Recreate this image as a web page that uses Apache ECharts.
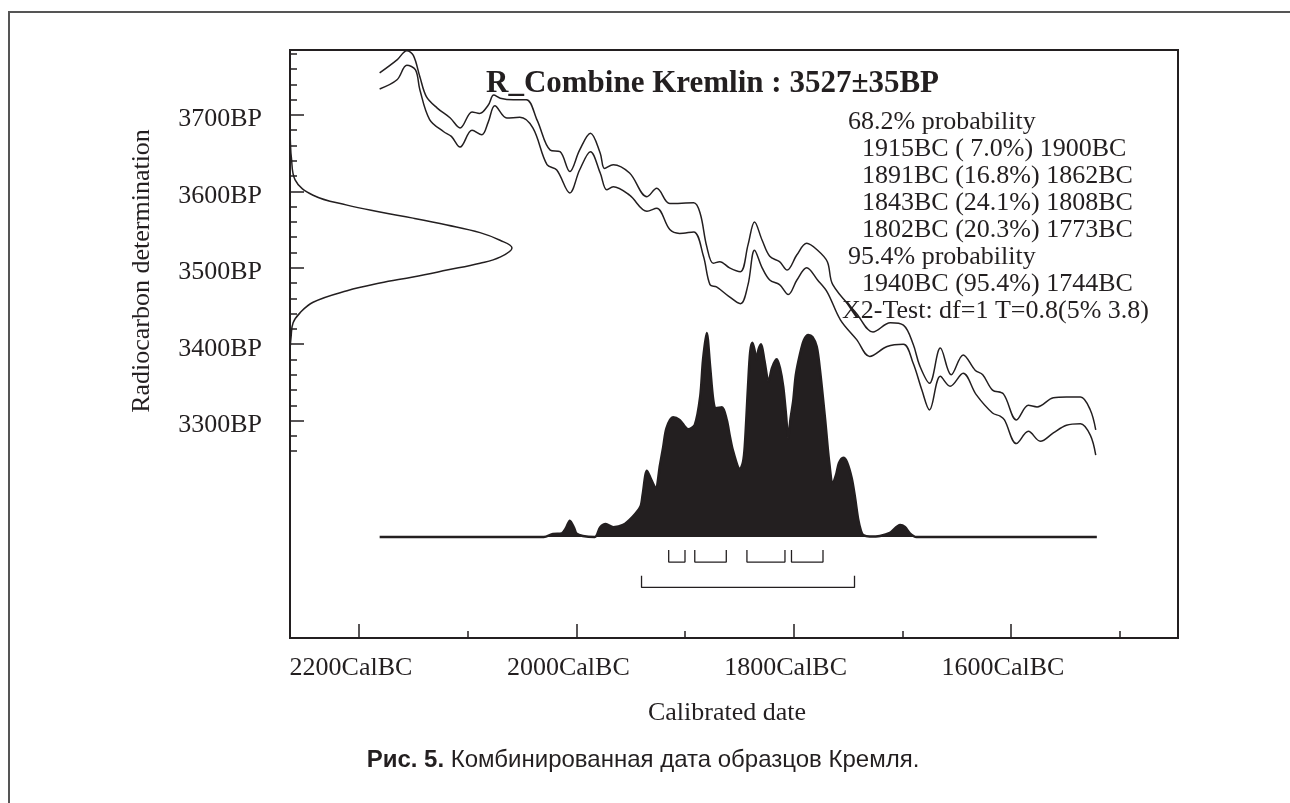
<!DOCTYPE html>
<html>
<head>
<meta charset="utf-8">
<script src="https://cdn.jsdelivr.net/npm/echarts@6.0.0/dist/echarts.min.js"></script>
<style>
html,body{margin:0;padding:0;background:#fff;}
#chart{width:1290px;height:803px;}
</style>
</head>
<body>
<div id="chart"></div>
<script>
// ---------- DATA ----------
// Calibration curve (upper / lower 1-sigma envelope): calendar year BC, radiocarbon BP
const upperYears = [2181,2165,2156,2150,2144,2138,2128,2116,2107,2096,2089,2081,2076,2070,2058,2046,2036,2024,2015,2006,1997,1987,1978,1974,1966,1951,1935,1926,1914,1892,1886,1880,1874,1868,1859,1849,1842,1836,1829,1822,1813,1806,1797,1788,1778,1769,1764,1742,1727,1711,1699,1690,1684,1675,1665,1655,1644,1633,1626,1617,1607,1595,1584,1576,1561,1549,1536,1527,1522];
const upperBP    = [3755,3772,3784,3778,3750,3724,3709,3696,3683,3704,3702,3713,3726,3722,3720,3720,3693,3654,3652,3626,3654,3676,3650,3630,3635,3624,3593,3604,3584,3585,3571,3528,3506,3508,3500,3495,3530,3560,3536,3515,3508,3497,3517,3532,3523,3508,3478,3440,3416,3428,3425,3400,3372,3349,3395,3360,3386,3366,3360,3340,3335,3301,3320,3318,3330,3331,3331,3314,3288];
const lowerYears = [2181,2165,2156,2148,2144,2135,2122,2115,2107,2096,2087,2081,2075,2064,2052,2040,2027,2018,2006,1997,1987,1978,1972,1966,1951,1935,1926,1914,1905,1892,1883,1877,1871,1860,1849,1842,1836,1829,1822,1813,1805,1797,1788,1778,1769,1757,1742,1730,1714,1699,1690,1682,1675,1665,1656,1644,1632,1617,1610,1606,1595,1584,1573,1561,1549,1536,1527,1522];
const lowerBP    = [3734,3746,3765,3759,3733,3694,3678,3672,3658,3680,3674,3691,3712,3696,3697,3683,3635,3628,3598,3628,3652,3624,3602,3606,3595,3574,3578,3550,3545,3547,3515,3478,3475,3463,3453,3478,3523,3500,3484,3478,3465,3484,3500,3484,3468,3432,3406,3384,3397,3400,3375,3340,3314,3358,3345,3362,3334,3310,3306,3301,3270,3286,3273,3284,3294,3296,3281,3255];

// Radiocarbon measurement distribution (BP, relative probability)
const measBP   = [3680,3663,3645,3615,3595,3582,3573,3565,3556,3546,3536,3526,3514,3506,3497,3488,3480,3470,3455,3441,3428,3410,3392];
const measProb = [0,0.002,0.006,0.023,0.104,0.257,0.405,0.554,0.707,0.856,0.946,1.0,0.946,0.856,0.707,0.554,0.405,0.257,0.104,0.045,0.014,0.005,0];

// Calibrated date distribution (year BC, relative probability)
const calYears = [2181,2030,2021.5,2013.5,2009.5,2006,2002,2000,1994,1983,1978,1973,1966,1957,1948,1941,1939,1935,1931,1927,1923,1920,1917,1911,1905,1897,1891,1886,1883.4,1880,1877,1874,1871.5,1866,1861.6,1858.6,1855.6,1849.4,1846.6,1845,1842,1840,1838,1835.6,1834,1832.4,1830,1827,1823,1820,1815.6,1812.6,1809.6,1807,1805,1803,1800.3,1798,1794,1790.5,1786.5,1782.7,1778.8,1775.8,1771,1767.5,1764,1761,1758.3,1754.3,1751,1746.6,1743.6,1740.5,1738,1736,1730,1720.6,1711.4,1702,1697.6,1693,1687,1521];
const calProb  = [0,0,0.015,0.018,0.044,0.08,0.044,0.018,0.005,0,0.048,0.064,0.048,0.059,0.1,0.149,0.206,0.325,0.28,0.239,0.353,0.443,0.534,0.587,0.574,0.528,0.549,0.688,0.868,1.0,0.843,0.672,0.631,0.636,0.574,0.49,0.418,0.332,0.368,0.443,0.737,0.907,0.952,0.907,0.868,0.917,0.945,0.868,0.761,0.828,0.871,0.828,0.737,0.598,0.484,0.574,0.672,0.794,0.9,0.966,0.99,0.98,0.933,0.819,0.574,0.377,0.263,0.304,0.363,0.389,0.368,0.289,0.196,0.083,0.029,0.01,0.002,0.005,0.02,0.059,0.049,0.018,0,0];

// Probability ranges (BC)
const ranges68 = [[1915,1900],[1891,1862],[1843,1808],[1802,1773]];
const ranges95 = [[1940,1744]];

// Tick labels
const xMajorTicks = [2200,2000,1800,1600];
const xMinorTicks = [2100,1900,1700,1500];
const yMajorTicks = [3300,3400,3500,3600,3700];
const yMinorTicks = [3260,3280,3320,3340,3360,3380,3420,3440,3460,3480,3520,3540,3560,3580,3620,3640,3660,3680,3720,3740,3760,3780];

const titleText = 'R_Combine Kremlin : 3527±35BP';
const probLines = ['68.2% probability','1915BC ( 7.0%) 1900BC','1891BC (16.8%) 1862BC','1843BC (24.1%) 1808BC','1802BC (20.3%) 1773BC','95.4% probability','1940BC (95.4%) 1744BC','X2-Test: df=1 T=0.8(5% 3.8)'];

// ---------- CHART ----------
const INK = '#231f20';
const SERIF = '"Liberation Serif","Times New Roman",serif';
const chart = echarts.init(document.getElementById('chart'), null, {renderer:'canvas'});

const zip = (a,b) => a.map((v,i)=>[v,b[i]]);

function bracket(r, top, bottom){
  return {
    type:'line', xAxisIndex:0, yAxisIndex:2, symbol:'none', silent:true,
    lineStyle:{color:INK, width:1.3},
    data:[[r[0],top],[r[0],bottom],[r[1],bottom],[r[1],top]]
  };
}

const probXs = [848,862,862,862,862,848,862,842];
const probY0 = 122.5, probDY = 26.9;

const graphics = [
  {type:'rect', shape:{x:9,y:12,width:1300,height:820}, style:{fill:'none',stroke:'#555',lineWidth:2}, silent:true},
  {type:'text', x:486, y:84, style:{text:titleText, font:'bold 31px '+SERIF, fill:INK, textAlign:'left', textVerticalAlign:'middle', align:'left', verticalAlign:'middle'}, z:10},
  {type:'text', x:142, y:271, rotation:Math.PI/2, style:{text:'Radiocarbon determination', font:'26px '+SERIF, fill:INK, textAlign:'center', textVerticalAlign:'middle', align:'center', verticalAlign:'middle'}},
  {type:'text', x:727, y:713, style:{text:'Calibrated date', font:'26px '+SERIF, fill:INK, textAlign:'center', textVerticalAlign:'middle', align:'center', verticalAlign:'middle'}},
  {type:'text', x:643, y:760, style:{text:'{b|Рис. 5.} Комбинированная дата образцов Кремля.', font:'24px "Liberation Sans",Arial,sans-serif', fill:INK, textAlign:'center', textVerticalAlign:'middle', align:'center', verticalAlign:'middle', rich:{b:{fontWeight:'bold', fontSize:24, fontFamily:'"Liberation Sans",Arial,sans-serif', fill:INK}}}}
];
probLines.forEach((t,i)=>{
  graphics.push({type:'text', x:probXs[i], y:probY0+i*probDY, style:{text:t, font:'26px '+SERIF, fill:INK, textAlign:'left', textVerticalAlign:'middle', align:'left', verticalAlign:'middle'}, z:10});
});

const axisLineOff = {show:false, onZero:false};
const option = {
  animation:false,
  backgroundColor:'#fff',
  grid:{left:290, top:50, width:888, height:588, show:true, borderColor:INK, borderWidth:2, backgroundColor:'transparent'},
  xAxis:[
    {type:'value', position:'bottom', inverse:true, min:1446.3, max:2263.5,
     axisLine:axisLineOff, splitLine:{show:false},
     axisTick:{show:true, inside:true, length:14, customValues:xMajorTicks, lineStyle:{color:INK,width:1.5}},
     axisLabel:{show:true, customValues:xMajorTicks, formatter:v=>v+'CalBC', fontFamily:SERIF, fontSize:26, color:INK, margin:17, padding:[0,16,0,0]}},
    {type:'value', position:'bottom', inverse:true, min:1446.3, max:2263.5,
     axisLine:axisLineOff, splitLine:{show:false}, axisLabel:{show:false},
     axisTick:{show:true, inside:true, length:7, customValues:xMinorTicks, lineStyle:{color:INK,width:1.5}}},
    {type:'value', show:false, min:0, max:4.0, axisLine:axisLineOff}
  ],
  yAxis:[
    {type:'value', position:'left', min:3015.6, max:3785,
     axisLine:axisLineOff, splitLine:{show:false},
     axisTick:{show:true, inside:true, length:14, customValues:yMajorTicks, lineStyle:{color:INK,width:1.5}},
     axisLabel:{show:true, customValues:yMajorTicks, formatter:v=>v+'BP', fontFamily:SERIF, fontSize:26, color:INK, margin:28, verticalAlign:'top', lineHeight:9}},
    {type:'value', position:'left', min:3015.6, max:3785,
     axisLine:axisLineOff, splitLine:{show:false}, axisLabel:{show:false},
     axisTick:{show:true, inside:true, length:7, customValues:yMinorTicks, lineStyle:{color:INK,width:1.5}}},
    {type:'value', show:false, min:-0.495, max:2.387, axisLine:axisLineOff}
  ],
  series:[
    {type:'line', name:'curveUpper', xAxisIndex:0, yAxisIndex:0, symbol:'none', smooth:0.35, silent:true,
     lineStyle:{color:INK,width:1.5}, data:zip(upperYears,upperBP)},
    {type:'line', name:'curveLower', xAxisIndex:0, yAxisIndex:0, symbol:'none', smooth:0.35, silent:true,
     lineStyle:{color:INK,width:1.5}, data:zip(lowerYears,lowerBP)},
    {type:'line', name:'measurement', xAxisIndex:2, yAxisIndex:0, symbol:'none', smooth:0.4, silent:true,
     lineStyle:{color:INK,width:1.5}, data:zip(measProb,measBP)},
    {type:'line', name:'calibrated', xAxisIndex:0, yAxisIndex:2, symbol:'none', smooth:0.3, silent:true,
     lineStyle:{color:INK,width:2.5}, areaStyle:{color:INK, opacity:1, origin:0}, data:zip(calYears,calProb)},
    ...ranges68.map(r=>bracket(r,-0.064,-0.123)),
    ...ranges95.map(r=>bracket(r,-0.19,-0.247))
  ],
  graphic:graphics
};
chart.setOption(option);
</script>
</body>
</html>
